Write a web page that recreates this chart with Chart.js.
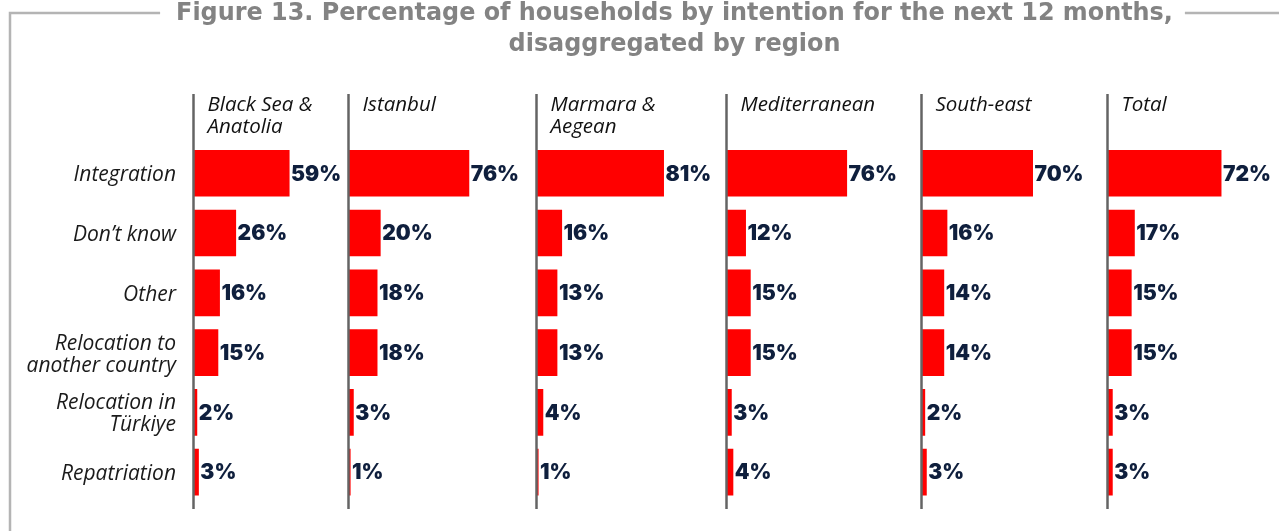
<!DOCTYPE html>
<html>
<head>
<meta charset="utf-8">
<script src="https://cdn.jsdelivr.net/npm/chart.js@4.4.1/dist/chart.umd.min.js"></script>
<style>
  html, body { margin: 0; padding: 0; background: #ffffff; }
  #wrap { position: relative; width: 1279px; height: 531px; }
</style>
</head>
<body>
<div id="wrap"><canvas id="c" width="1279" height="531"></canvas></div>
<script>
// ---- data ----
const titleLines = ['Figure 13. Percentage of households by intention for the next 12 months,', 'disaggregated by region'];
const categories = ['Integration', 'Don\u2019t know', 'Other', ['Relocation to', 'another country'], ['Relocation in', 'T\u00fcrkiye'], 'Repatriation'];
const regions = [['Black Sea &', 'Anatolia'], ['Istanbul'], ['Marmara &', 'Aegean'], ['Mediterranean'], ['South-east'], ['Total']];
const blackSeaAnatolia = [59, 26, 16, 15, 2, 3];
const istanbul        = [76, 20, 18, 18, 3, 1];
const marmaraAegean   = [81, 16, 13, 13, 4, 1];
const mediterranean   = [76, 12, 15, 15, 3, 4];
const southEast       = [70, 16, 14, 14, 2, 3];
const total           = [72, 17, 15, 15, 3, 3];
const seriesValues = [blackSeaAnatolia, istanbul, marmaraAegean, mediterranean, southEast, total];

// ---- styling ----
const panelWidths = [155, 188, 190, 195, 186, 171];
const panelMax = [95.7, 118.8, 121.2, 123.4, 117.3, 108.5];
const RED = '#ff0000';
const NAVY = '#0f1f3d';
const AXIS_GREY = '#646464';
const FRAME_GREY = '#b4b4b4';
const TITLE_GREY = '#838383';
const valueFont = '900 21px Inter, "DejaVu Sans", sans-serif';
const headerFont = 'italic 20.5px "Open Sans", sans-serif';
const TITLE_FAMILY = '"DejaVu Sans", sans-serif';
const TITLE_TARGET_WIDTH = 997;
const TITLE_CX = 674.5;

const scales = {
  y: {
    type: 'category',
    position: 'left',
    offset: true,
    grid: { display: false, drawTicks: false },
    border: { display: false },
    ticks: {
      color: '#1a1a1a',
      padding: 18,
      labelOffset: 2,
      autoSkip: false,
      font: { family: '"Open Sans", sans-serif', size: 21, style: 'italic', lineHeight: '22px' }
    },
    afterFit(scale) { scale.width = 194; }
  }
};
const datasets = [];
// axes stacked at the top are laid out in reverse insertion order, so insert last panel first
for (let i = seriesValues.length - 1; i >= 0; i--) {
  scales['x' + i] = {
    type: 'linear',
    position: 'top',
    stack: 'panels',
    stackWeight: panelWidths[i],
    min: 0,
    max: panelMax[i],
    grid: { display: false, drawTicks: false },
    border: { display: false },
    ticks: { display: false },
    afterFit(scale) { scale.height = 143.4; }
  };
}
seriesValues.forEach((vals, i) => {
  datasets.push({
    label: regions[i].join(' '),
    data: vals,
    xAxisID: 'x' + i,
    yAxisID: 'y',
    backgroundColor: RED,
    borderWidth: 0,
    categoryPercentage: 1,
    barPercentage: 0.78,
    grouped: false
  });
});

const decorPlugin = {
  id: 'decor',
  beforeDraw(chart) {
    const ctx = chart.ctx;
    ctx.save();
    ctx.font = 'bold 22px ' + TITLE_FAMILY;
    const size = 22 * TITLE_TARGET_WIDTH / ctx.measureText(titleLines[0]).width;
    ctx.font = 'bold ' + size.toFixed(2) + 'px ' + TITLE_FAMILY;
    const w = ctx.measureText(titleLines[0]).width;
    // frame
    const y = 13;
    ctx.strokeStyle = FRAME_GREY;
    ctx.lineWidth = 2.5;
    ctx.beginPath();
    ctx.moveTo(10, chart.height);
    ctx.lineTo(10, y);
    ctx.lineTo(TITLE_CX - w / 2 - 16, y);
    ctx.moveTo(TITLE_CX + w / 2 + 12, y);
    ctx.lineTo(chart.width, y);
    ctx.stroke();
    // title
    ctx.fillStyle = TITLE_GREY;
    ctx.textAlign = 'center';
    ctx.textBaseline = 'alphabetic';
    ctx.fillText(titleLines[0], TITLE_CX, 20);
    ctx.fillText(titleLines[1], TITLE_CX, 51);
    ctx.restore();
  },
  afterDatasetsDraw(chart) {
    const ctx = chart.ctx;
    ctx.save();
    seriesValues.forEach((vals, i) => {
      const sc = chart.scales['x' + i];
      const x0 = sc.getPixelForValue(0) - 0.5;
      ctx.strokeStyle = AXIS_GREY;
      ctx.lineWidth = 2.5;
      ctx.beginPath();
      ctx.moveTo(x0, 94);
      ctx.lineTo(x0, 509);
      ctx.stroke();
      ctx.fillStyle = '#111111';
      ctx.font = headerFont;
      ctx.textAlign = 'left';
      ctx.textBaseline = 'middle';
      regions[i].forEach((line, k) => {
        ctx.fillText(line, x0 + 14, 105 + k * 22);
      });
    });
    ctx.fillStyle = NAVY;
    ctx.font = valueFont;
    ctx.textAlign = 'left';
    ctx.textBaseline = 'middle';
    chart.data.datasets.forEach((ds, i) => {
      const meta = chart.getDatasetMeta(i);
      meta.data.forEach((el, j) => {
        ctx.fillText(ds.data[j] + '%', el.x + 1.5, el.y + 1);
      });
    });
    ctx.restore();
  }
};

new Chart(document.getElementById('c'), {
  type: 'bar',
  data: { labels: categories, datasets },
  options: {
    indexAxis: 'y',
    responsive: false,
    animation: false,
    layout: { padding: { left: 0, right: 0, top: 0, bottom: 26 } },
    scales,
    plugins: {
      legend: { display: false },
      tooltip: { enabled: false },
      title: { display: false }
    }
  },
  plugins: [decorPlugin]
});
</script>
</body>
</html>
